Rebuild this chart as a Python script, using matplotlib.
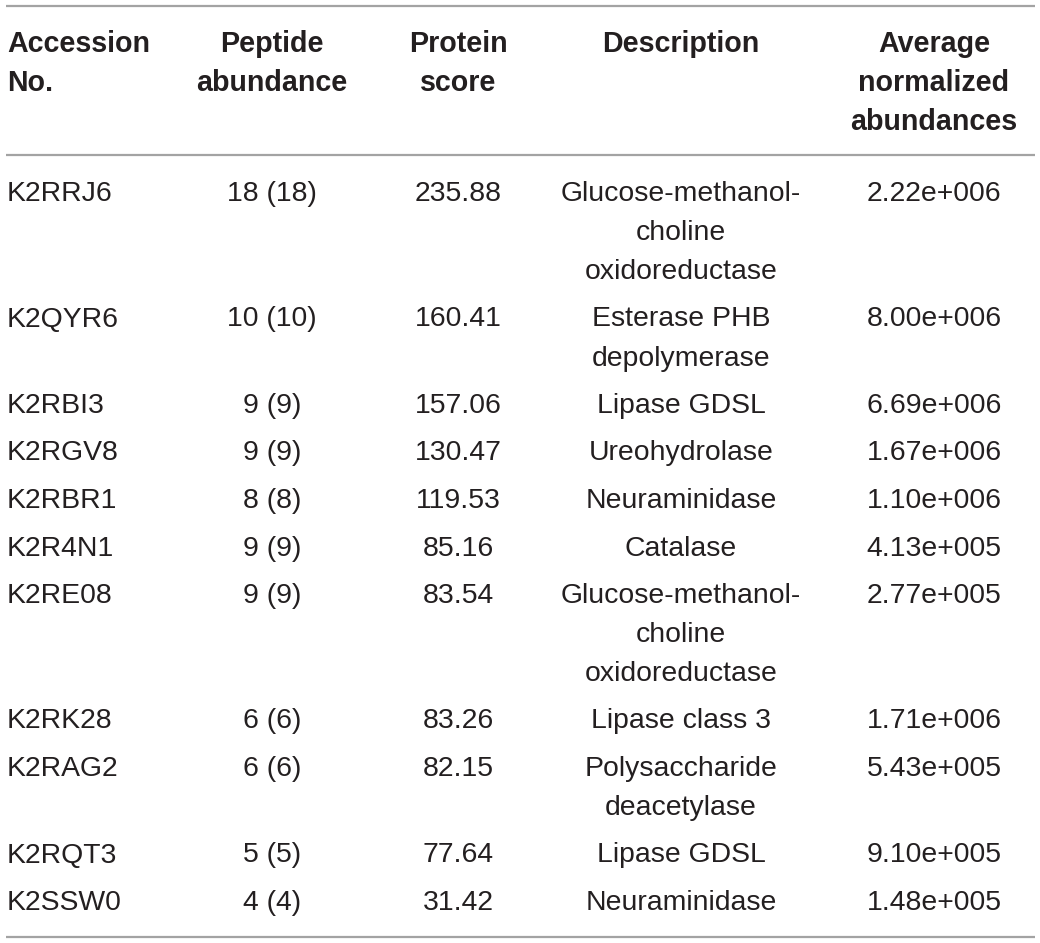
import matplotlib.pyplot as plt

# -- Table contents --
headers = ["Accession\nNo.", "Peptide\nabundance", "Protein\nscore",
           "Description", "Average\nnormalized\nabundances"]
accession = ["K2RRJ6", "K2QYR6", "K2RBI3", "K2RGV8", "K2RBR1", "K2R4N1",
             "K2RE08", "K2RK28", "K2RAG2", "K2RQT3", "K2SSW0"]
peptides = ["18 (18)", "10 (10)", "9 (9)", "9 (9)", "8 (8)", "9 (9)",
            "9 (9)", "6 (6)", "6 (6)", "5 (5)", "4 (4)"]
scores = [235.88, 160.41, 157.06, 130.47, 119.53, 85.16,
          83.54, 83.26, 82.15, 77.64, 31.42]
descriptions = ["Glucose-methanol-\ncholine\noxidoreductase",
                "Esterase PHB\ndepolymerase",
                "Lipase GDSL",
                "Ureohydrolase",
                "Neuraminidase",
                "Catalase",
                "Glucose-methanol-\ncholine\noxidoreductase",
                "Lipase class 3",
                "Polysaccharide\ndeacetylase",
                "Lipase GDSL",
                "Neuraminidase"]
abundances = ["2.22e+006", "8.00e+006", "6.69e+006", "1.67e+006", "1.10e+006",
              "4.13e+005", "2.77e+005", "1.71e+006", "5.43e+005", "9.10e+005",
              "1.48e+005"]

# -- Layout (pixels) --
W, H = 1040, 943
col_x = [7, 272, 458, 681, 934]
col_ha = ["left", "center", "center", "center", "center"]
line_h = 39
row_gap = 47.5
text_col = "#231f20"
rule_col = "#a3a3a3"

plt.rcParams["font.family"] = ["Liberation Sans", "DejaVu Sans"]
fig = plt.figure(figsize=(W / 100, H / 100), dpi=100)
ax = fig.add_axes([0, 0, 1, 1])
ax.set_xlim(0, W)
ax.set_ylim(H, 0)
ax.axis("off")


def put_cell(x, y, text, ha, bold=False):
    for k, part in enumerate(text.split("\n")):
        ax.text(x, y + k * line_h, part, ha=ha, va="baseline",
                fontsize=20.6 if bold else 20.4,
                color=text_col, fontweight="bold" if bold else "normal")


# -- Header --
for x, ha, h in zip(col_x, col_ha, headers):
    put_cell(x, 52, h, ha, bold=True)

# -- Body --
y = 201
for i in range(len(accession)):
    cells = [accession[i], peptides[i], f"{scores[i]:.2f}",
             descriptions[i], abundances[i]]
    for x, ha, c in zip(col_x, col_ha, cells):
        put_cell(x, y, c, ha)
    n_lines = max(c.count("\n") + 1 for c in cells)
    y += row_gap + line_h * (n_lines - 1)

# -- Rules --
ax.hlines([6, 155, 937], 6, 1035, colors=rule_col, linewidth=1.6)

fig.savefig("out.png", dpi=100)
